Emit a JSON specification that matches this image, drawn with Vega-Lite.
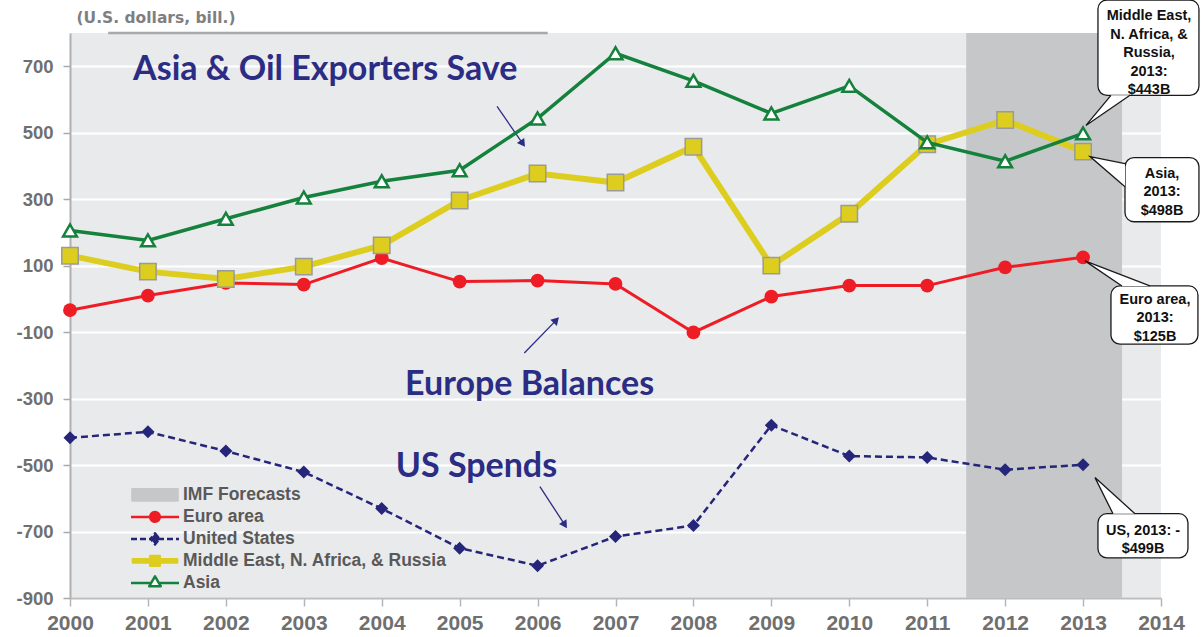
{
  "$schema": "https://vega.github.io/schema/vega-lite/v6.json",
  "width": 1091,
  "height": 565,
  "autosize": {"type": "none"},
  "padding": {"left": 70, "top": 33, "right": 42, "bottom": 39},
  "background": "white",
  "config": {
    "view": {"fill": "#e9eaec", "stroke": null},
    "font": "Liberation Sans"
  },
  "datasets": {
    "pts": [
      {"year": 2000, "series": "Euro area", "value": -34},
      {"year": 2001, "series": "Euro area", "value": 10},
      {"year": 2002, "series": "Euro area", "value": 48},
      {"year": 2003, "series": "Euro area", "value": 43},
      {"year": 2004, "series": "Euro area", "value": 123},
      {"year": 2005, "series": "Euro area", "value": 52},
      {"year": 2006, "series": "Euro area", "value": 55},
      {"year": 2007, "series": "Euro area", "value": 45},
      {"year": 2008, "series": "Euro area", "value": -101},
      {"year": 2009, "series": "Euro area", "value": 7},
      {"year": 2010, "series": "Euro area", "value": 40},
      {"year": 2011, "series": "Euro area", "value": 40},
      {"year": 2012, "series": "Euro area", "value": 95},
      {"year": 2013, "series": "Euro area", "value": 125},
      {"year": 2000, "series": "United States", "value": -418},
      {"year": 2001, "series": "United States", "value": -400},
      {"year": 2002, "series": "United States", "value": -458},
      {"year": 2003, "series": "United States", "value": -521},
      {"year": 2004, "series": "United States", "value": -631},
      {"year": 2005, "series": "United States", "value": -750},
      {"year": 2006, "series": "United States", "value": -803},
      {"year": 2007, "series": "United States", "value": -715},
      {"year": 2008, "series": "United States", "value": -682},
      {"year": 2009, "series": "United States", "value": -380},
      {"year": 2010, "series": "United States", "value": -473},
      {"year": 2011, "series": "United States", "value": -477},
      {"year": 2012, "series": "United States", "value": -514},
      {"year": 2013, "series": "United States", "value": -499},
      {"year": 2000, "series": "Middle East, N. Africa, & Russia", "value": 130},
      {"year": 2001, "series": "Middle East, N. Africa, & Russia", "value": 82},
      {"year": 2002, "series": "Middle East, N. Africa, & Russia", "value": 60},
      {"year": 2003, "series": "Middle East, N. Africa, & Russia", "value": 97},
      {"year": 2004, "series": "Middle East, N. Africa, & Russia", "value": 161},
      {"year": 2005, "series": "Middle East, N. Africa, & Russia", "value": 296},
      {"year": 2006, "series": "Middle East, N. Africa, & Russia", "value": 377},
      {"year": 2007, "series": "Middle East, N. Africa, & Russia", "value": 350},
      {"year": 2008, "series": "Middle East, N. Africa, & Russia", "value": 458},
      {"year": 2009, "series": "Middle East, N. Africa, & Russia", "value": 100},
      {"year": 2010, "series": "Middle East, N. Africa, & Russia", "value": 256},
      {"year": 2011, "series": "Middle East, N. Africa, & Russia", "value": 465},
      {"year": 2012, "series": "Middle East, N. Africa, & Russia", "value": 538},
      {"year": 2013, "series": "Middle East, N. Africa, & Russia", "value": 443},
      {"year": 2000, "series": "Asia", "value": 206},
      {"year": 2001, "series": "Asia", "value": 176},
      {"year": 2002, "series": "Asia", "value": 241},
      {"year": 2003, "series": "Asia", "value": 305},
      {"year": 2004, "series": "Asia", "value": 354},
      {"year": 2005, "series": "Asia", "value": 387},
      {"year": 2006, "series": "Asia", "value": 543},
      {"year": 2007, "series": "Asia", "value": 739},
      {"year": 2008, "series": "Asia", "value": 656},
      {"year": 2009, "series": "Asia", "value": 558},
      {"year": 2010, "series": "Asia", "value": 641},
      {"year": 2011, "series": "Asia", "value": 471},
      {"year": 2012, "series": "Asia", "value": 414},
      {"year": 2013, "series": "Asia", "value": 498}
    ],
    "forecast": [{"start": 2011.5, "end": 2013.5}],
    "topline": [{"x": 2000.49, "x2": 2006.13, "y": 800}],
    "notes": [
      {"x": 2000.81, "y": 688, "text": "Asia & Oil Exporters Save"},
      {"x": 2004.3, "y": -260, "text": "Europe Balances"},
      {"x": 2004.18, "y": -505, "text": "US Spends"}
    ],
    "arrows": [
      {"id": "a1", "x": 2005.48, "y": 579, "x2": 2005.81, "y2": 467},
      {"id": "a2", "x": 2005.83, "y": -163, "x2": 2006.24, "y2": -64},
      {"id": "a3", "x": 2006.03, "y": -565, "x2": 2006.35, "y2": -680}
    ],
    "boxes": [
      {"c": "mena", "x": 2013.191, "x2": 2014.487, "y": 899.3, "y2": 612.5},
      {"c": "asia", "x": 2013.538, "x2": 2014.487, "y": 425.3, "y2": 232.1},
      {"c": "euro", "x": 2013.358, "x2": 2014.474, "y": 38.9, "y2": -136.2},
      {"c": "us", "x": 2013.191, "x2": 2014.346, "y": -646.4, "y2": -779.2}
    ],
    "tails": [
      {"c": "mena", "k": 0, "x": 2013.358, "y": 612.5},
      {"c": "mena", "k": 1, "x": 2013.037, "y": 521.9},
      {"c": "mena", "k": 2, "x": 2013.602, "y": 612.5},
      {"c": "asia", "k": 0, "x": 2013.538, "y": 407.2},
      {"c": "asia", "k": 1, "x": 2013.089, "y": 428.3},
      {"c": "asia", "k": 2, "x": 2013.538, "y": 337.7},
      {"c": "euro", "k": 0, "x": 2013.499, "y": 38.9},
      {"c": "euro", "k": 1, "x": 2013.024, "y": 114.4},
      {"c": "euro", "k": 2, "x": 2013.858, "y": 38.9},
      {"c": "us", "k": 0, "x": 2013.384, "y": -646.4},
      {"c": "us", "k": 1, "x": 2013.153, "y": -537.7},
      {"c": "us", "k": 2, "x": 2013.666, "y": -646.4}
    ],
    "ctext": [
      {"c": "mena", "x": 2013.846, "y": 851, "text": "Middle East,\nN. Africa, &\nRussia,\n2013:\n$443B"},
      {"c": "asia", "x": 2014.013, "y": 376, "text": "Asia,\n2013:\n$498B"},
      {"c": "euro", "x": 2013.923, "y": -3, "text": "Euro area,\n2013:\n$125B"},
      {"c": "us", "x": 2013.769, "y": -697, "text": "US, 2013: -\n$499B"}
    ]
  },
  "layer": [
    {
      "data": {"name": "pts"},
      "transform": [{"filter": "datum.series === 'Euro area'"}],
      "mark": {"type": "line", "strokeWidth": 0, "opacity": 0},
      "encoding": {
        "x": {
          "field": "year", "type": "quantitative",
          "scale": {"domain": [2000, 2014], "nice": false, "zero": false},
          "axis": {
            "title": null, "values": [2000,2001,2002,2003,2004,2005,2006,2007,2008,2009,2010,2011,2012,2013,2014],
            "format": "d", "grid": false,
            "domainColor": "#bdbdbd", "domainWidth": 2,
            "tickColor": "#b5b5b5", "tickSize": 8, "tickWidth": 1.5,
            "labelFont": "Liberation Sans", "labelFontSize": 21, "labelFontWeight": "bold",
            "labelColor": "#6f6f70", "labelPadding": 6, "labelFlush": false, "labelOverlap": false
          }
        },
        "y": {
          "field": "value", "type": "quantitative",
          "scale": {"domain": [-900, 800], "nice": false, "zero": false},
          "axis": {
            "title": "(U.S. dollars, bill.)", "titleAngle": 0, "titleX": 6, "titleY": -16,
            "titleAlign": "left", "titleBaseline": "middle", "titleFont": "DejaVu Sans",
            "titleFontSize": 15.5, "titleFontWeight": "bold", "titleColor": "#7f7f7f",
            "values": [-900,-700,-500,-300,-100,100,300,500,700],
            "labelExpr": "datum.value < 0 ? '-' + abs(datum.value) : '' + datum.value",
            "grid": true, "gridColor": "white", "gridWidth": 2,
            "domainColor": "#b0b0b0", "domainWidth": 2,
            "tickColor": "#a8a8a8", "tickSize": 7, "tickWidth": 1.5,
            "labelFont": "Liberation Sans", "labelFontSize": 18.5, "labelFontWeight": "bold",
            "labelColor": "#6f6f6f", "labelPadding": 10
          }
        },
        "color": {
          "field": "series", "type": "nominal",
          "scale": {
            "domain": ["IMF Forecasts", "Euro area", "United States", "Middle East, N. Africa, & Russia", "Asia"],
            "range": ["#c6c7c9", "#ee1c25", "#25257a", "#ddcd1f", "#14813c"]
          },
          "legend": {
            "orient": "none", "legendX": 59.5, "legendY": 451, "title": null, "padding": 0,
            "clipHeight": 21.75,
            "symbolSize": 2304, "symbolOpacity": 1, "symbolStrokeWidth": 2.5,
            "labelFont": "Liberation Sans", "labelFontSize": 17.5, "labelFontWeight": "bold",
            "labelColor": "#595959", "labelOffset": 2.5, "rowPadding": 0, "labelLimit": 400,
            "encode": {
              "symbols": {
                "update": {
                  "shape": {"signal": "datum.value === 'IMF Forecasts' ? 'M0,-0.4M0,0.4M-0.94,-0.23L0.94,-0.23L0.94,0.23L-0.94,0.23Z' : datum.value === 'Euro area' ? 'M0,-0.4M0,0.4M-1,0L1,0M-0.2,0A0.2,0.2,0,1,0,0.2,0A0.2,0.2,0,1,0,-0.2,0Z' : datum.value === 'United States' ? 'M0,-0.4M0,0.4M-1,0L1,0M0,-0.23L0.18,0L0,0.23L-0.18,0Z' : datum.value === 'Asia' ? 'M0,-0.4M0,0.4M-1,0L-0.15,0M0.15,0L1,0M0,-0.27L0.24,0.14L-0.24,0.14Z' : 'M0,-0.4M0,0.4M-0.92,-0.07L0.92,-0.07L0.92,0.07L-0.92,0.07ZM-0.2,-0.2L0.2,-0.2L0.2,0.2L-0.2,0.2Z'"},
                  "fill": {"signal": "datum.value === 'IMF Forecasts' ? '#c6c7c9' : datum.value === 'Euro area' ? '#ee1c25' : datum.value === 'United States' ? '#25257a' : datum.value === 'Asia' ? '#ffffff' : '#ddcd1f'"},
                  "stroke": {"signal": "datum.value === 'IMF Forecasts' ? '#c6c7c9' : datum.value === 'Euro area' ? '#ee1c25' : datum.value === 'United States' ? '#25257a' : datum.value === 'Asia' ? '#14813c' : '#ddcd1f'"},
                  "strokeWidth": {"value": 2.5},
                  "strokeDash": {"signal": "datum.value === 'United States' ? [6,3] : [1,0]"},
                  "strokeJoin": {"value": "round"},
                  "opacity": {"value": 1}
                }
              }
            }
          }
        }
      }
    },
    {
      "data": {"name": "forecast"},
      "mark": {"type": "rect", "color": "#c6c7c9"},
      "encoding": {
        "x": {"field": "start", "type": "quantitative", "scale": {"domain": [2000, 2014], "nice": false, "zero": false}},
        "x2": {"field": "end"}
      }
    },
    {
      "mark": {"type": "rule", "color": "#7a7a7a", "strokeWidth": 1},
      "encoding": {
        "y": {"datum": 0, "type": "quantitative", "scale": {"domain": [-900, 800], "nice": false, "zero": false}}
      }
    },
    {
      "data": {"name": "topline"},
      "mark": {"type": "rule", "color": "#a9a9a9", "strokeWidth": 2.5},
      "encoding": {
        "x": {"field": "x", "type": "quantitative", "scale": {"domain": [2000, 2014], "nice": false, "zero": false}},
        "x2": {"field": "x2"},
        "y": {"field": "y", "type": "quantitative", "scale": {"domain": [-900, 800], "nice": false, "zero": false}}
      }
    },
    {
      "data": {"name": "notes"},
      "mark": {"type": "text", "align": "left", "baseline": "middle", "font": "Lato", "fontWeight": "bold", "fontSize": 34, "color": "#2b2d84"},
      "encoding": {
        "x": {"field": "x", "type": "quantitative", "scale": {"domain": [2000, 2014], "nice": false, "zero": false}},
        "y": {"field": "y", "type": "quantitative", "scale": {"domain": [-900, 800], "nice": false, "zero": false}},
        "text": {"field": "text"}
      }
    },
    {
      "data": {"name": "arrows"},
      "mark": {"type": "rule", "color": "#2b2d84", "strokeWidth": 1.3},
      "encoding": {
        "x": {"field": "x", "type": "quantitative", "scale": {"domain": [2000, 2014], "nice": false, "zero": false}},
        "y": {"field": "y", "type": "quantitative", "scale": {"domain": [-900, 800], "nice": false, "zero": false}},
        "x2": {"field": "x2"},
        "y2": {"field": "y2"}
      }
    },
    {
      "data": {"name": "arrows"},
      "transform": [{"filter": "datum.id === 'a1'"}],
      "mark": {"type": "point", "shape": "triangle-up", "filled": true, "size": 80, "angle": 145, "color": "#2b2d84", "opacity": 1},
      "encoding": {
        "x": {"field": "x2", "type": "quantitative", "scale": {"domain": [2000, 2014], "nice": false, "zero": false}},
        "y": {"field": "y2", "type": "quantitative", "scale": {"domain": [-900, 800], "nice": false, "zero": false}}
      }
    },
    {
      "data": {"name": "arrows"},
      "transform": [{"filter": "datum.id === 'a2'"}],
      "mark": {"type": "point", "shape": "triangle-up", "filled": true, "size": 80, "angle": 44, "color": "#2b2d84", "opacity": 1},
      "encoding": {
        "x": {"field": "x2", "type": "quantitative", "scale": {"domain": [2000, 2014], "nice": false, "zero": false}},
        "y": {"field": "y2", "type": "quantitative", "scale": {"domain": [-900, 800], "nice": false, "zero": false}}
      }
    },
    {
      "data": {"name": "arrows"},
      "transform": [{"filter": "datum.id === 'a3'"}],
      "mark": {"type": "point", "shape": "triangle-up", "filled": true, "size": 80, "angle": 147, "color": "#2b2d84", "opacity": 1},
      "encoding": {
        "x": {"field": "x2", "type": "quantitative", "scale": {"domain": [2000, 2014], "nice": false, "zero": false}},
        "y": {"field": "y2", "type": "quantitative", "scale": {"domain": [-900, 800], "nice": false, "zero": false}}
      }
    },
    {
      "data": {"name": "pts"},
      "transform": [{"filter": "datum.series === 'Euro area'"}],
      "mark": {"type": "line", "strokeWidth": 3, "color": "#ee1c25"},
      "encoding": {
        "x": {"field": "year", "type": "quantitative", "scale": {"domain": [2000, 2014], "nice": false, "zero": false}},
        "y": {"field": "value", "type": "quantitative", "scale": {"domain": [-900, 800], "nice": false, "zero": false}}
      }
    },
    {
      "data": {"name": "pts"},
      "transform": [{"filter": "datum.series === 'Euro area'"}],
      "mark": {"type": "point", "shape": "circle", "filled": true, "size": 190, "color": "#ee1c25", "opacity": 1},
      "encoding": {
        "x": {"field": "year", "type": "quantitative", "scale": {"domain": [2000, 2014], "nice": false, "zero": false}},
        "y": {"field": "value", "type": "quantitative", "scale": {"domain": [-900, 800], "nice": false, "zero": false}}
      }
    },
    {
      "data": {"name": "pts"},
      "transform": [{"filter": "datum.series === 'United States'"}],
      "mark": {"type": "line", "strokeWidth": 2.5, "strokeDash": [7, 4], "color": "#25257a"},
      "encoding": {
        "x": {"field": "year", "type": "quantitative", "scale": {"domain": [2000, 2014], "nice": false, "zero": false}},
        "y": {"field": "value", "type": "quantitative", "scale": {"domain": [-900, 800], "nice": false, "zero": false}}
      }
    },
    {
      "data": {"name": "pts"},
      "transform": [{"filter": "datum.series === 'United States'"}],
      "mark": {"type": "point", "shape": "diamond", "filled": true, "size": 170, "color": "#25257a", "opacity": 1},
      "encoding": {
        "x": {"field": "year", "type": "quantitative", "scale": {"domain": [2000, 2014], "nice": false, "zero": false}},
        "y": {"field": "value", "type": "quantitative", "scale": {"domain": [-900, 800], "nice": false, "zero": false}}
      }
    },
    {
      "data": {"name": "pts"},
      "transform": [{"filter": "datum.series === 'Middle East, N. Africa, & Russia'"}],
      "mark": {"type": "line", "strokeWidth": 6, "color": "#ddcd1f"},
      "encoding": {
        "x": {"field": "year", "type": "quantitative", "scale": {"domain": [2000, 2014], "nice": false, "zero": false}},
        "y": {"field": "value", "type": "quantitative", "scale": {"domain": [-900, 800], "nice": false, "zero": false}}
      }
    },
    {
      "data": {"name": "pts"},
      "transform": [{"filter": "datum.series === 'Middle East, N. Africa, & Russia'"}],
      "mark": {"type": "point", "shape": "square", "filled": true, "size": 270, "fill": "#ddcd1f", "stroke": "#9a9a9a", "strokeWidth": 1.5, "opacity": 1},
      "encoding": {
        "x": {"field": "year", "type": "quantitative", "scale": {"domain": [2000, 2014], "nice": false, "zero": false}},
        "y": {"field": "value", "type": "quantitative", "scale": {"domain": [-900, 800], "nice": false, "zero": false}}
      }
    },
    {
      "data": {"name": "pts"},
      "transform": [{"filter": "datum.series === 'Asia'"}],
      "mark": {"type": "line", "strokeWidth": 3.5, "color": "#14813c"},
      "encoding": {
        "x": {"field": "year", "type": "quantitative", "scale": {"domain": [2000, 2014], "nice": false, "zero": false}},
        "y": {"field": "value", "type": "quantitative", "scale": {"domain": [-900, 800], "nice": false, "zero": false}}
      }
    },
    {
      "data": {"name": "pts"},
      "transform": [{"filter": "datum.series === 'Asia'"}],
      "mark": {"type": "point", "shape": "triangle-up", "filled": false, "size": 190, "fill": "#ffffff", "stroke": "#14813c", "strokeWidth": 2.5, "opacity": 1},
      "encoding": {
        "x": {"field": "year", "type": "quantitative", "scale": {"domain": [2000, 2014], "nice": false, "zero": false}},
        "y": {"field": "value", "type": "quantitative", "scale": {"domain": [-900, 800], "nice": false, "zero": false}}
      }
    },
    {
      "data": {"name": "boxes"},
      "mark": {"type": "rect", "fill": "#ffffff", "stroke": "#1a1a1a", "strokeWidth": 1.3, "cornerRadius": 9, "clip": false},
      "encoding": {
        "x": {"field": "x", "type": "quantitative", "scale": {"domain": [2000, 2014], "nice": false, "zero": false}},
        "x2": {"field": "x2"},
        "y": {"field": "y", "type": "quantitative", "scale": {"domain": [-900, 800], "nice": false, "zero": false}},
        "y2": {"field": "y2"}
      }
    },
    {
      "data": {"name": "tails"},
      "mark": {"type": "line", "interpolate": "linear-closed", "fill": "#ffffff", "stroke": null, "strokeWidth": 0},
      "encoding": {
        "x": {"field": "x", "type": "quantitative", "scale": {"domain": [2000, 2014], "nice": false, "zero": false}},
        "y": {"field": "y", "type": "quantitative", "scale": {"domain": [-900, 800], "nice": false, "zero": false}},
        "detail": {"field": "c"},
        "order": {"field": "k", "type": "quantitative"}
      }
    },
    {
      "data": {"name": "tails"},
      "mark": {"type": "line", "color": "#1a1a1a", "strokeWidth": 1.3},
      "encoding": {
        "x": {"field": "x", "type": "quantitative", "scale": {"domain": [2000, 2014], "nice": false, "zero": false}},
        "y": {"field": "y", "type": "quantitative", "scale": {"domain": [-900, 800], "nice": false, "zero": false}},
        "detail": {"field": "c"},
        "order": {"field": "k", "type": "quantitative"}
      }
    },
    {
      "data": {"name": "ctext"},
      "mark": {"type": "text", "align": "center", "baseline": "middle", "lineBreak": "\n", "lineHeight": 18.5, "font": "Liberation Sans", "fontWeight": "bold", "fontSize": 14.5, "color": "#111111"},
      "encoding": {
        "x": {"field": "x", "type": "quantitative", "scale": {"domain": [2000, 2014], "nice": false, "zero": false}},
        "y": {"field": "y", "type": "quantitative", "scale": {"domain": [-900, 800], "nice": false, "zero": false}},
        "text": {"field": "text"}
      }
    }
  ]
}
